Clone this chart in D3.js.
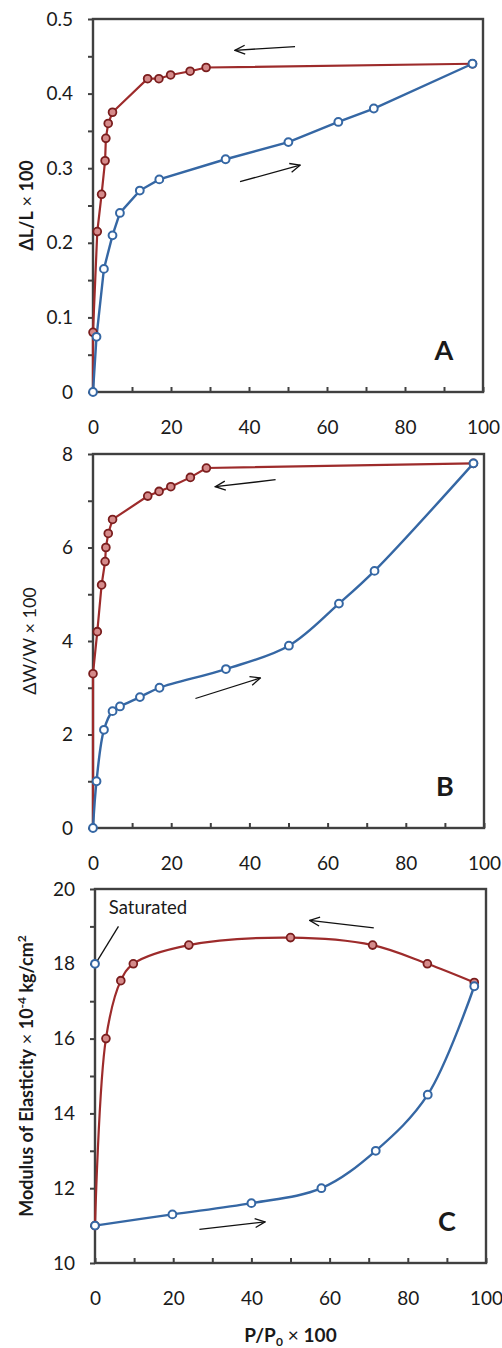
<!DOCTYPE html>
<html lang="en">
<head>
  <meta charset="UTF-8">
  <script src="https://d3js.org/d3.v7.min.js"></script>
  <title>Sorption hysteresis</title>
  <style>
    body { margin: 0; background: #fff; }
    text { font-family: Lato, "Open Sans", sans-serif; fill: #1a1a1a; }
  </style>
</head>
<body>
<script>
  /*
    Data (x = P/P0 x 100)
  */
  // panel A : dL/L x 100
  const aRedX  = [0, 0, 1.1, 2.2, 3.1, 3.3, 3.9, 5, 14, 16.9, 19.9, 24.9, 29, 97.3]
  const aRedY  = [0, 0.08, 0.215, 0.265, 0.31, 0.34, 0.36, 0.375, 0.42, 0.42, 0.425, 0.43, 0.435, 0.44]
  const aBlueX = [0, 0.9, 2.8, 5, 6.9, 12, 17, 34, 50.1, 62.9, 72, 97.3]
  const aBlueY = [0, 0.074, 0.165, 0.21, 0.24, 0.27, 0.285, 0.312, 0.335, 0.362, 0.38, 0.44]
  const aYTicks = [0, 0.1, 0.2, 0.3, 0.4, 0.5]

  // panel B : dW/W x 100
  const bRedX  = [0, 0, 1.1, 2.2, 3.1, 3.3, 3.9, 5, 14, 16.9, 19.9, 24.9, 29, 97.3]
  const bRedY  = [0, 3.3, 4.2, 5.2, 5.7, 6.0, 6.3, 6.6, 7.1, 7.2, 7.3, 7.5, 7.7, 7.8]
  const bBlueX = [0, 0.9, 2.8, 5, 6.9, 12, 17, 34, 50.1, 62.9, 72, 97.3]
  const bBlueY = [0, 1.0, 2.1, 2.5, 2.6, 2.8, 3.0, 3.4, 3.9, 4.8, 5.5, 7.8]
  const bYTicks = [0, 2, 4, 6, 8]

  // panel C : modulus of elasticity
  const cRedX  = [0, 2.8, 6.6, 9.8, 24, 50, 71, 85, 97]
  const cRedY  = [11, 16, 17.55, 18, 18.5, 18.7, 18.5, 18, 17.5]
  const cBlueX = [0, 19.8, 40, 57.9, 71.8, 85.1, 97]
  const cBlueY = [11, 11.3, 11.6, 12, 13, 14.5, 17.4]
  const cSatX = [0]
  const cSatY = [18]
  const cYTicks = [10, 12, 14, 16, 18, 20]

  const xTicks = [0, 20, 40, 60, 80, 100]

  /*
    Constants
  */
  const width = 502
  const height = 1348
  const redLine = "#9d2b2b"
  const redFill = "#d58a8a"
  const redEdge = "#7a1d1d"
  const blueLine = "#3567a4"
  const axisCol = "#404040"

  const zip = (xs, ys) => xs.map((x, i) => [x, ys[i]])

  const panels = [
    { letter: "A", left: 93, right: 483, top: 19, bottom: 392, yDom: [0, 0.5], yTicks: aYTicks, minor: 0.05,
      red: zip(aRedX, aRedY), blue: zip(aBlueX, aBlueY), redCurve: d3.curveLinear, blueCurve: d3.curveLinear,
      arrows: [[[51.8, 0.463], [36.4, 0.458]], [[37.7, 0.282], [53.1, 0.304]]],
      title: [["ΔL/L", "bold"], [" × ", "normal"], ["100", "bold"]], titleX: 27 },
    { letter: "B", left: 93, right: 484, top: 454, bottom: 828, yDom: [0, 8], yTicks: bYTicks, minor: 1,
      red: zip(bRedX, bRedY), blue: zip(bBlueX, bBlueY), redCurve: d3.curveLinear, blueCurve: d3.curveCatmullRom,
      arrows: [[[46.7, 7.45], [31.3, 7.3]], [[26.2, 2.77], [42.8, 3.21]]],
      title: [["ΔW/W × 100", "normal"]], titleX: 30 },
    { letter: "C", left: 95, right: 486, top: 889, bottom: 1263, yDom: [10, 20], yTicks: cYTicks, minor: 1,
      red: zip(cRedX, cRedY), blue: zip(cBlueX, cBlueY), redCurve: d3.curveCatmullRom, blueCurve: d3.curveCatmullRom,
      arrows: [[[71.3, 18.96], [54.9, 19.16]], [[26.7, 10.9], [43.5, 11.1]]],
      title: null, titleX: 27, sat: zip(cSatX, cSatY) }
  ]

  let isvg = d3.select("body").append("svg")
    .attr("width", width)
    .attr("height", height)

  // arrow head
  isvg.append("defs").append("marker")
    .attr("id", "head")
    .attr("viewBox", "0 0 12 12")
    .attr("refX", 11).attr("refY", 6)
    .attr("markerWidth", 12).attr("markerHeight", 12)
    .attr("markerUnits", "userSpaceOnUse")
    .attr("orient", "auto")
    .append("path")
    .attr("d", "M1,1.5 L11,6 L1,10.5")
    .attr("fill", "none")
    .attr("stroke", "#111")
    .attr("stroke-width", 1.3)

  panels.forEach(function(p) {
    let x = d3.scaleLinear().domain([0, 100]).range([p.left, p.right])
    let y = d3.scaleLinear().domain(p.yDom).range([p.bottom, p.top])
    let g = isvg.append("g")

    // y ticks (outside), labels at majors only
    let yAll = d3.range(p.yDom[0], p.yDom[1] + p.minor / 2, p.minor).map(v => +v.toFixed(3))
    let yAxis = d3.axisLeft(y).tickValues(yAll).tickSize(5).tickPadding(15)
      .tickFormat(v => p.yTicks.some(t => Math.abs(t - v) < 1e-6) ? String(v) : "")
    let ya = g.append("g").attr("transform", `translate(${p.left},0)`).call(yAxis)

    // x ticks (inside)
    let xAxis = d3.axisBottom(x).tickValues(d3.range(0, 101, 10)).tickSize(-5).tickPadding(29)
      .tickFormat(v => xTicks.includes(v) ? String(v) : "")
    let xa = g.append("g").attr("transform", `translate(0,${p.bottom})`).call(xAxis)

    ;[ya, xa].forEach(a => {
      a.select(".domain").remove()
      a.selectAll(".tick line").attr("stroke", axisCol).attr("stroke-width", 2)
      a.selectAll(".tick text").style("font-size", "19px").attr("fill", "#222")
    })

    // plot box
    g.append("rect")
      .attr("x", p.left).attr("y", p.top)
      .attr("width", p.right - p.left).attr("height", p.bottom - p.top)
      .attr("fill", "none").attr("stroke", axisCol).attr("stroke-width", 2.4)

    let redPath = d3.line().x(d => x(d[0])).y(d => y(d[1])).curve(p.redCurve)
    let bluePath = d3.line().x(d => x(d[0])).y(d => y(d[1])).curve(p.blueCurve)

    g.append("path").datum(p.red).attr("d", redPath)
      .attr("fill", "none").attr("stroke", redLine).attr("stroke-width", 2.2)
    g.append("path").datum(p.blue).attr("d", bluePath)
      .attr("fill", "none").attr("stroke", blueLine).attr("stroke-width", 2.4)

    // red markers (skip origin, hidden under blue)
    g.selectAll(".rdot").data(p.red.filter(d => !(d[0] === 0 && d[1] === p.yDom[0])))
      .enter().append("circle")
      .attr("cx", d => x(d[0])).attr("cy", d => y(d[1])).attr("r", 3.9)
      .attr("fill", redFill).attr("stroke", redEdge).attr("stroke-width", 1.8)

    let blues = p.sat ? p.blue.concat(p.sat) : p.blue
    g.selectAll(".bdot").data(blues)
      .enter().append("circle")
      .attr("cx", d => x(d[0])).attr("cy", d => y(d[1])).attr("r", 3.9)
      .attr("fill", "#fff").attr("stroke", blueLine).attr("stroke-width", 2)

    // direction arrows
    p.arrows.forEach(a => {
      g.append("line")
        .attr("x1", x(a[0][0])).attr("y1", y(a[0][1]))
        .attr("x2", x(a[1][0])).attr("y2", y(a[1][1]))
        .attr("stroke", "#111").attr("stroke-width", 1.3)
        .attr("marker-end", "url(#head)")
    })

    // panel letter
    g.append("text")
      .attr("x", p.right - 39).attr("y", p.bottom - 32)
      .attr("text-anchor", "middle")
      .style("font-size", "27px").style("font-weight", "bold")
      .text(p.letter)

    // y title
    let cy = (p.top + p.bottom) / 2
    let t = g.append("text")
      .attr("transform", `translate(${p.titleX},${cy}) rotate(-90)`)
      .attr("text-anchor", "middle")
      .attr("dy", "0.35em")
      .style("font-size", "18px")
    if (p.title) {
      p.title.forEach(s => t.append("tspan").style("font-weight", s[1]).text(s[0]))
    } else {
      t.append("tspan").style("font-weight", "bold").text("Modulus of Elasticity")
      t.append("tspan").style("font-weight", "normal").text(" × ")
      t.append("tspan").style("font-weight", "bold").text("10")
      t.append("tspan").style("font-weight", "bold").style("font-size", "12px").attr("dy", "-7").text("-4")
      t.append("tspan").style("font-weight", "bold").attr("dy", "7").text(" kg/cm")
      t.append("tspan").style("font-weight", "bold").style("font-size", "12px").attr("dy", "-7").text("2")

      // saturated note
      g.append("text").attr("x", 148).attr("y", y(19.33))
        .attr("text-anchor", "middle").style("font-size", "18.5px").text("Saturated")
      g.append("line")
        .attr("x1", x(6)).attr("y1", y(19.0))
        .attr("x2", x(0.7)).attr("y2", y(18.1))
        .attr("stroke", "#111").attr("stroke-width", 1.3)

      // x title
      let xt = g.append("text")
        .attr("x", (p.left + p.right) / 2).attr("y", 1342)
        .attr("text-anchor", "middle").style("font-size", "19px")
      xt.append("tspan").style("font-weight", "bold").text("P/P")
      xt.append("tspan").style("font-weight", "bold").style("font-size", "12px").attr("dy", "4").text("0")
      xt.append("tspan").style("font-weight", "normal").attr("dy", "-4").text(" × ")
      xt.append("tspan").style("font-weight", "bold").text("100")
    }
  })
</script>
</body>
</html>
